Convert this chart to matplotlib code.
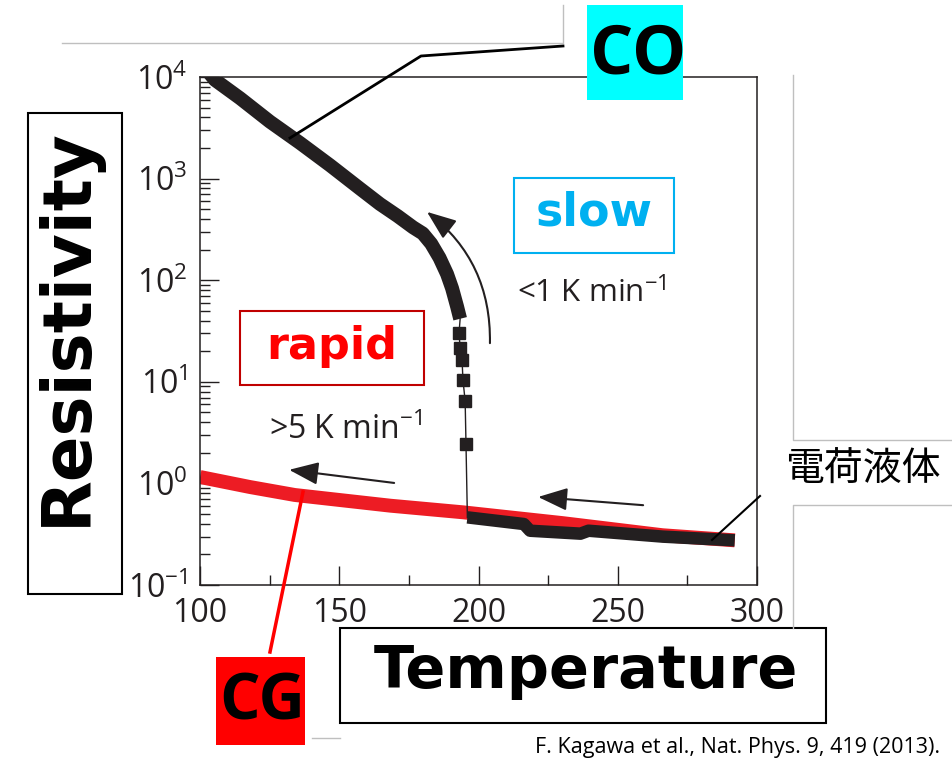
import matplotlib.pyplot as plt
from matplotlib.patches import Rectangle
from matplotlib.ticker import LogLocator, MultipleLocator, NullFormatter

plt.rcParams['font.family'] = ['Open Sans', 'DejaVu Sans']
plt.rcParams['mathtext.fontset'] = 'custom'
plt.rcParams['mathtext.rm'] = 'Open Sans'
plt.rcParams['mathtext.default'] = 'regular'

INK = '#231f20'
RED = '#ED1C24'
SKY = '#00B0F0'

# slow cooling (<1 K/min): charge-ordered branch
temp_slow = [103.0, 105.4, 114.4, 125.1, 135.9, 146.7, 157.5, 164.6, 171.0, 176.5,
             180.0, 183.0, 186.0, 188.7, 190.5, 192.3, 193.4]
rho_slow = [11220, 9330, 6170, 3630, 2240, 1350, 794, 562, 427, 331,
            288, 229, 166, 115, 83.2, 55.0, 41.7]

# sparse points across the jump
temp_drop = [193.0, 193.4, 194.1, 194.4, 195.2, 195.5]
rho_drop = [30.2, 21.4, 16.2, 10.5, 6.46, 2.45]

# slow cooling above the transition (charge liquid)
temp_liquid = [196.0, 216.3, 218.5, 236.6, 239.5, 266.3, 292.0]
rho_liquid = [0.463, 0.398, 0.342, 0.320, 0.342, 0.299, 0.275]

# rapid cooling (>5 K/min): charge glass
temp_rapid = [100.0, 118.0, 134.0, 168.4, 194.5, 230.0, 266.0, 292.0]
rho_rapid = [1.156, 0.92, 0.769, 0.603, 0.519, 0.407, 0.309, 0.275]

fig = plt.figure(figsize=(9.52, 7.62), dpi=100)
ax = fig.add_axes([0.2101, 0.2323, 0.5851, 0.6667])
ax.set_yscale('log')
ax.set_xlim(100, 300)
ax.set_ylim(0.1, 1e4)

ax.plot(temp_rapid, rho_rapid, color=RED, lw=10, solid_capstyle='butt',
        solid_joinstyle='round', zorder=2)
ax.plot(temp_liquid, rho_liquid, color=INK, lw=9, solid_capstyle='butt',
        solid_joinstyle='round', zorder=3)
ax.plot([temp_slow[-1]] + temp_drop + [temp_liquid[0]],
        [rho_slow[-1]] + rho_drop + [rho_liquid[0]], color=INK, lw=1, zorder=3)
ax.plot(temp_drop, rho_drop, 's', color=INK, ms=8.5, zorder=4)
ax.plot(temp_slow, rho_slow, color=INK, lw=10, solid_capstyle='butt',
        solid_joinstyle='round', zorder=3)

# cooling-direction arrows
head = '-|>,head_length=0.9,head_width=0.35'
ax.annotate('', xy=(181.5, 470), xytext=(204.1, 24),
            arrowprops=dict(arrowstyle=head, color=INK, lw=1.5, mutation_scale=20,
                            connectionstyle='arc3,rad=0.25', shrinkA=0, shrinkB=0))
ax.annotate('', xy=(132, 1.36), xytext=(169.7, 1.01),
            arrowprops=dict(arrowstyle=head, color=INK, lw=1.5, mutation_scale=20,
                            shrinkA=0, shrinkB=0))
ax.annotate('', xy=(221.4, 0.735), xytext=(259.1, 0.61),
            arrowprops=dict(arrowstyle=head, color=INK, lw=1.5, mutation_scale=20,
                            shrinkA=0, shrinkB=0))

ax.xaxis.set_major_locator(MultipleLocator(50))
ax.xaxis.set_minor_locator(MultipleLocator(25))
ax.yaxis.set_major_locator(LogLocator(base=10, numticks=10))
ax.yaxis.set_minor_locator(LogLocator(base=10, subs=range(2, 10), numticks=20))
ax.yaxis.set_minor_formatter(NullFormatter())
ax.tick_params(which='both', direction='in', top=False, right=False,
               color=INK, labelcolor=INK, labelsize=23)
ax.tick_params(which='major', length=14, width=1)
ax.tick_params(which='minor', length=7, width=1)
ax.tick_params(axis='x', pad=9)
ax.tick_params(axis='y', pad=9)
for s in ax.spines.values():
    s.set_color(INK)
    s.set_linewidth(1.1)

# annotation layer in pixel units
ov = fig.add_axes([0, 0, 1, 1], zorder=5)
ov.set_xlim(0, 952)
ov.set_ylim(762, 0)
ov.axis('off')

grey = '#BFBFBF'
ov.plot([62, 563, 563], [43, 43, 5], color=grey, lw=1)
ov.plot([793, 793, 952], [75, 440, 440], color=grey, lw=1)
ov.plot([952, 793, 793], [505, 505, 628], color=grey, lw=1)
ov.plot([312, 340], [738, 738], color=grey, lw=1)

ov.plot([563, 421, 290], [46, 56, 138], color='black', lw=2)
ov.plot([760, 712], [496, 540], color='black', lw=1.5)
ov.plot([303, 270], [492, 652], color='#FF0000', lw=2.5)

co_box = Rectangle((587, 5), 96, 95, facecolor='#00FFFF', edgecolor='none')
ov.add_patch(co_box)
t = ov.text(638, 55, 'CO', ha='center', va='center', fontsize=49,
            fontweight='bold', family='Open Sans', color='black')
t.set_clip_path(co_box)

ov.add_patch(Rectangle((216, 657), 89, 88, facecolor='#FF0000', edgecolor='none'))
ov.text(262, 703, 'CG', ha='center', va='center', fontsize=46,
        fontweight='bold', family='Open Sans', color='black')

ov.add_patch(Rectangle((28, 113), 94, 481, facecolor='white', edgecolor='black', lw=1.5))
ov.text(67, 327, 'Resistivity', ha='center', va='center', rotation=90, fontsize=48.5,
        fontweight='bold', family='DejaVu Sans', color='black')

ov.add_patch(Rectangle((340, 628), 486, 95, facecolor='white', edgecolor='black', lw=1.5))
ov.text(586, 672, 'Temperature', ha='center', va='center', fontsize=42.5,
        fontweight='bold', family='DejaVu Sans', color='black')

ov.add_patch(Rectangle((240, 311), 184, 74, facecolor='white', edgecolor='#C00000', lw=1.5))
ov.text(332, 346, 'rapid', ha='center', va='center', fontsize=32,
        fontweight='bold', family='DejaVu Sans', color='#FF0000')

ov.add_patch(Rectangle((514, 178), 160, 75, facecolor='white', edgecolor=SKY, lw=1.5))
ov.text(594, 213, 'slow', ha='center', va='center', fontsize=33,
        fontweight='bold', family='DejaVu Sans', color=SKY)

ov.text(592, 293, '<1 K min$^{-1}$', ha='center', va='center', fontsize=22.5, color=INK)
ov.text(346, 430, '>5 K min$^{-1}$', ha='center', va='center', fontsize=23, color=INK)

ov.text(863, 470, '電荷液体', ha='center', va='center', fontsize=28,
        family=['Noto Sans CJK JP', 'DejaVu Sans'], color='black')
ov.text(940, 748, 'F. Kagawa et al., Nat. Phys. 9, 419 (2013).', ha='right', va='center',
        fontsize=15.5, color='black')

fig.savefig('out.png', dpi=100)
